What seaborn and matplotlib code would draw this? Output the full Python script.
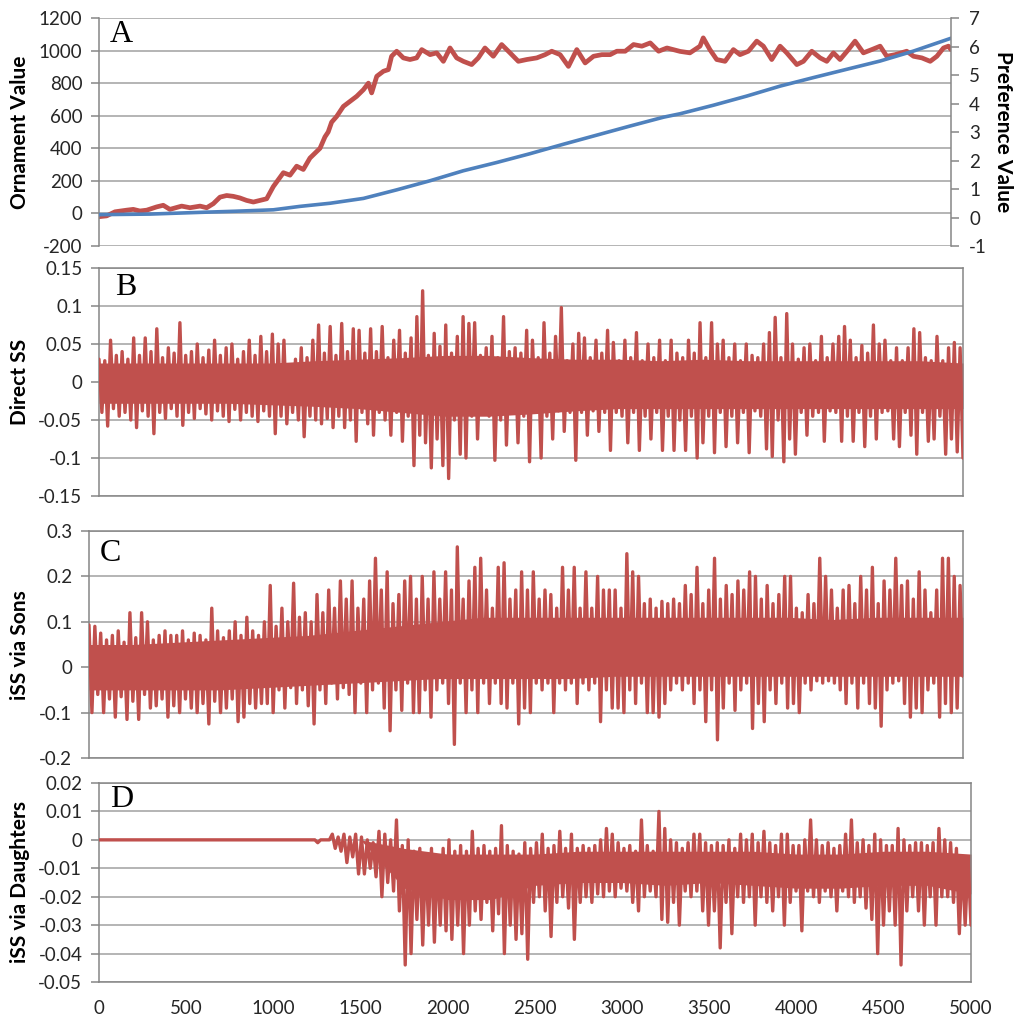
import numpy as np
import matplotlib
matplotlib.use("Agg")
import matplotlib.pyplot as plt
import seaborn as sns

# ---------------- Panel A data ----------------
ornament_gen = [0, 45, 94, 162, 201, 240, 280, 338, 377, 416, 485, 534, 593, 632, 671, 710, 749, 788,
                827, 866, 906, 945, 984, 1023, 1082, 1121, 1160, 1199, 1238, 1297, 1326, 1345, 1365, 1395,
                1434, 1473, 1512, 1552, 1581, 1600, 1630, 1669, 1698, 1717, 1747, 1786, 1825, 1864, 1894,
                1943, 1982, 2021, 2060, 2099, 2138, 2187, 2226, 2265, 2314, 2363, 2412, 2461, 2510, 2569,
                2618, 2657, 2706, 2755, 2804, 2853, 2902, 2951, 3000, 3039, 3088, 3137, 3186, 3235, 3284,
                3333, 3410, 3468, 3527, 3546, 3585, 3625, 3674, 3723, 3762, 3811, 3860, 3899, 3948, 3997,
                4036, 4095, 4134, 4183, 4232, 4271, 4310, 4349, 4398, 4437, 4486, 4535, 4584, 4623, 4672,
                4740, 4780, 4829, 4878, 4917, 4956, 4985, 5000]
ornament_val = [-20, -15, 10, 20, 25, 15, 20, 40, 50, 25, 45, 35, 45, 35, 60, 100, 110, 105,
                95, 80, 70, 80, 90, 165, 250, 235, 290, 270, 340, 400, 470, 500, 560, 596,
                657, 688, 719, 760, 800, 740, 842, 873, 883, 965, 996, 955, 945, 955, 1006,
                975, 986, 934, 1016, 955, 934, 914, 955, 1016, 965, 1037, 986, 934, 945, 955,
                975, 996, 975, 903, 1006, 924, 965, 975, 975, 996, 996, 1037, 1027, 1047, 996,
                1016, 995, 986, 1027, 1078, 1006, 945, 934, 1006, 975, 996, 1058, 1027, 945, 1027,
                986, 914, 934, 996, 955, 934, 986, 945, 1006, 1058, 986, 1006, 1027, 965, 975,
                996, 965, 955, 934, 965, 1016, 1027, 1006]
preference_gen = [0, 300, 593, 800, 1023, 1179, 1356, 1552, 1747, 1943, 2138, 2334, 2530, 2725,
                  2921, 3117, 3313, 3410, 3606, 3801, 3997, 4193, 4388, 4584, 4780, 5000]
preference_val = [0.10, 0.12, 0.18, 0.22, 0.27, 0.39, 0.50, 0.67, 0.97, 1.29, 1.64, 1.93, 2.24, 2.57,
                  2.89, 3.21, 3.52, 3.64, 3.94, 4.26, 4.61, 4.91, 5.20, 5.49, 5.84, 6.29]

# ---------------- Panel B: Direct SS (alternating peaks / troughs) ----------------
direct_ss_peaks = [
    0.030, 0.028, 0.055, 0.035, 0.040, 0.030, 0.058, 0.035, 0.058, 0.040, 0.070, 0.032, 0.045, 0.038, 0.078,
    0.035, 0.040, 0.050, 0.032, 0.042, 0.055, 0.035, 0.045, 0.050, 0.030, 0.040, 0.055, 0.035, 0.060, 0.040,
    0.063, 0.050, 0.055, 0.020, 0.030, 0.045, 0.032, 0.055, 0.075, 0.038, 0.073, 0.035, 0.077, 0.040, 0.070,
    0.068, 0.038, 0.070, 0.040, 0.073, 0.032, 0.055, 0.068, 0.038, 0.058, 0.086, 0.120, 0.035, 0.064, 0.047,
    0.075, 0.038, 0.060, 0.086, 0.077, 0.078, 0.035, 0.045, 0.060, 0.032, 0.086, 0.040, 0.045, 0.038, 0.068,
    0.055, 0.032, 0.078, 0.038, 0.060, 0.098, 0.028, 0.050, 0.064, 0.058, 0.032, 0.055, 0.038, 0.068, 0.052,
    0.028, 0.055, 0.032, 0.065, 0.028, 0.050, 0.032, 0.055, 0.028, 0.055, 0.038, 0.032, 0.055, 0.038, 0.078,
    0.032, 0.078, 0.050, 0.055, 0.032, 0.050, 0.028, 0.050, 0.035, 0.032, 0.050, 0.065, 0.085, 0.032, 0.090,
    0.050, 0.030, 0.045, 0.050, 0.028, 0.060, 0.032, 0.050, 0.060, 0.073, 0.055, 0.032, 0.048, 0.038, 0.075,
    0.050, 0.055, 0.028, 0.045, 0.028, 0.045, 0.070, 0.065, 0.032, 0.028, 0.060, 0.028, 0.045, 0.052, 0.045]
direct_ss_troughs = [
    -0.040, -0.058, -0.035, -0.045, -0.040, -0.050, -0.060, -0.038, -0.045, -0.068, -0.040, -0.048, -0.035, -0.045, -0.057,
    -0.040, -0.048, -0.035, -0.042, -0.050, -0.038, -0.045, -0.052, -0.036, -0.050, -0.040, -0.045, -0.052, -0.038, -0.045,
    -0.068, -0.045, -0.055, -0.040, -0.050, -0.072, -0.045, -0.050, -0.055, -0.048, -0.060, -0.045, -0.060, -0.050, -0.078,
    -0.040, -0.055, -0.070, -0.040, -0.050, -0.070, -0.040, -0.078, -0.045, -0.110, -0.070, -0.080, -0.113, -0.075, -0.110,
    -0.127, -0.050, -0.095, -0.100, -0.045, -0.075, -0.040, -0.045, -0.103, -0.050, -0.083, -0.040, -0.080, -0.045, -0.105,
    -0.040, -0.100, -0.045, -0.075, -0.038, -0.065, -0.040, -0.103, -0.040, -0.070, -0.038, -0.065, -0.040, -0.090, -0.040,
    -0.045, -0.080, -0.040, -0.090, -0.045, -0.075, -0.040, -0.090, -0.045, -0.090, -0.050, -0.090, -0.045, -0.100, -0.080,
    -0.045, -0.093, -0.040, -0.085, -0.045, -0.080, -0.040, -0.093, -0.038, -0.045, -0.088, -0.098, -0.050, -0.105, -0.075,
    -0.095, -0.040, -0.070, -0.045, -0.040, -0.078, -0.038, -0.040, -0.078, -0.045, -0.078, -0.040, -0.085, -0.045, -0.075,
    -0.040, -0.038, -0.075, -0.085, -0.040, -0.070, -0.095, -0.040, -0.078, -0.075, -0.045, -0.095, -0.075, -0.092, -0.100]
# dense core of the trace, read every 250 generations
direct_ss_core_hi = [0.025, 0.025, 0.025, 0.025, 0.025, 0.028, 0.030, 0.032, 0.035, 0.035, 0.032,
                     0.030, 0.030, 0.028, 0.030, 0.028, 0.028, 0.028, 0.028, 0.028, 0.025]
direct_ss_core_lo = [-0.028, -0.028, -0.028, -0.028, -0.030, -0.032, -0.035, -0.040, -0.045, -0.045, -0.042,
                     -0.038, -0.035, -0.035, -0.035, -0.035, -0.035, -0.035, -0.035, -0.035, -0.035]

# ---------------- Panel C: iSS via Sons ----------------
sons_peaks = [
    0.093, 0.090, 0.075, 0.060, 0.070, 0.080, 0.055, 0.120, 0.065, 0.120, 0.100, 0.060, 0.070, 0.080, 0.070,
    0.070, 0.080, 0.060, 0.075, 0.070, 0.060, 0.130, 0.080, 0.065, 0.080, 0.100, 0.070, 0.110, 0.080, 0.070,
    0.100, 0.180, 0.090, 0.130, 0.100, 0.185, 0.110, 0.120, 0.100, 0.160, 0.120, 0.170, 0.130, 0.190, 0.150,
    0.190, 0.130, 0.150, 0.190, 0.240, 0.170, 0.210, 0.140, 0.160, 0.190, 0.200, 0.150, 0.200, 0.150, 0.210,
    0.150, 0.210, 0.170, 0.265, 0.150, 0.190, 0.220, 0.240, 0.170, 0.130, 0.220, 0.230, 0.150, 0.170, 0.210,
    0.170, 0.210, 0.150, 0.170, 0.160, 0.130, 0.220, 0.170, 0.220, 0.130, 0.210, 0.130, 0.200, 0.170, 0.170,
    0.170, 0.130, 0.250, 0.210, 0.200, 0.140, 0.150, 0.130, 0.145, 0.140, 0.150, 0.140, 0.180, 0.160, 0.220,
    0.140, 0.170, 0.240, 0.150, 0.180, 0.160, 0.190, 0.170, 0.210, 0.200, 0.150, 0.180, 0.140, 0.160, 0.200,
    0.200, 0.130, 0.120, 0.160, 0.140, 0.240, 0.200, 0.170, 0.130, 0.170, 0.180, 0.140, 0.200, 0.170, 0.220,
    0.140, 0.190, 0.170, 0.240, 0.180, 0.190, 0.150, 0.210, 0.170, 0.120, 0.170, 0.240, 0.240, 0.200, 0.180]
sons_troughs = [
    -0.100, -0.060, -0.100, -0.070, -0.110, -0.065, -0.115, -0.075, -0.115, -0.060, -0.090, -0.085, -0.070, -0.110, -0.085,
    -0.100, -0.070, -0.090, -0.100, -0.080, -0.125, -0.075, -0.100, -0.090, -0.070, -0.120, -0.110, -0.080, -0.090, -0.080,
    -0.080, -0.100, -0.050, -0.090, -0.045, -0.080, -0.050, -0.085, -0.125, -0.050, -0.080, -0.035, -0.070, -0.045, -0.060,
    -0.100, -0.035, -0.100, -0.050, -0.035, -0.090, -0.140, -0.050, -0.095, -0.035, -0.100, -0.100, -0.050, -0.110, -0.050,
    -0.035, -0.080, -0.170, -0.035, -0.100, -0.050, -0.100, -0.035, -0.080, -0.035, -0.080, -0.090, -0.035, -0.125, -0.090,
    -0.100, -0.035, -0.050, -0.035, -0.100, -0.035, -0.050, -0.035, -0.080, -0.035, -0.050, -0.035, -0.120, -0.050, -0.090,
    -0.090, -0.100, -0.050, -0.080, -0.035, -0.100, -0.100, -0.110, -0.080, -0.050, -0.035, -0.050, -0.035, -0.080, -0.050,
    -0.120, -0.050, -0.160, -0.090, -0.035, -0.095, -0.050, -0.035, -0.135, -0.080, -0.120, -0.050, -0.080, -0.035, -0.090,
    -0.080, -0.100, -0.035, -0.050, -0.030, -0.035, -0.030, -0.035, -0.050, -0.080, -0.035, -0.090, -0.035, -0.080, -0.090,
    -0.130, -0.050, -0.035, -0.030, -0.080, -0.110, -0.090, -0.100, -0.050, -0.035, -0.110, -0.080, -0.100, -0.090, -0.020]
sons_core_hi = [0.050, 0.050, 0.055, 0.060, 0.065, 0.070, 0.080, 0.090, 0.100, 0.110, 0.110,
                0.110, 0.110, 0.110, 0.110, 0.110, 0.110, 0.105, 0.110, 0.110, 0.110]
sons_core_lo = [-0.050, -0.050, -0.050, -0.050, -0.045, -0.040, -0.035, -0.030, -0.025, -0.025, -0.025,
                -0.025, -0.020, -0.020, -0.020, -0.020, -0.020, -0.020, -0.020, -0.020, -0.020]

# ---------------- Panel D: iSS via Daughters ----------------
daughters_peaks = [
    0, 0, 0, 0, 0, 0, 0, 0, 0, 0, 0, 0, 0, 0, 0,
    0, 0, 0, 0, 0, 0, 0, 0, 0, 0, 0, 0, 0, 0, 0,
    0, 0, 0, 0, 0, 0, 0, 0, 0, 0, 0.002, 0.001, 0.002, 0.001, 0.002,
    0.001, 0.000, -0.001, 0.003, 0.002, 0.000, 0.007, -0.002, 0.000, -0.004, -0.003, -0.005, -0.003, -0.006, -0.003,
    0.000, -0.004, -0.002, -0.004, 0.003, -0.003, -0.002, -0.004, -0.003, 0.005, -0.002, -0.004, -0.005, -0.001, -0.003,
    -0.001, 0.002, -0.003, -0.002, 0.003, -0.003, 0.002, -0.003, -0.002, -0.003, -0.002, 0.000, 0.004, 0.002, -0.001,
    -0.003, -0.002, -0.004, 0.007, -0.002, -0.004, 0.010, 0.004, 0.000, -0.001, -0.003, -0.001, 0.002, 0.002, -0.001,
    -0.002, -0.001, -0.002, 0.000, -0.003, 0.002, 0.000, 0.002, -0.001, 0.003, -0.001, -0.002, 0.002, 0.002, -0.002,
    -0.002, 0.000, 0.007, 0.000, -0.002, -0.001, -0.003, -0.002, 0.002, 0.007, -0.001, 0.000, -0.002, 0.002, 0.000,
    -0.002, -0.002, 0.004, 0.000, -0.002, -0.001, -0.001, -0.002, -0.001, 0.004, 0.000, -0.001, -0.003, -0.007, -0.007]
daughters_troughs = [
    0, 0, 0, 0, 0, 0, 0, 0, 0, 0, 0, 0, 0, 0, 0,
    0, 0, 0, 0, 0, 0, 0, 0, 0, 0, 0, 0, 0, 0, 0,
    0, 0, 0, 0, 0, 0, 0, -0.001, 0, 0, -0.003, -0.004, -0.008, -0.006, -0.012,
    -0.012, -0.010, -0.013, -0.020, -0.015, -0.018, -0.025, -0.044, -0.040, -0.028, -0.037, -0.030, -0.036, -0.030, -0.032,
    -0.035, -0.030, -0.040, -0.030, -0.025, -0.028, -0.022, -0.032, -0.026, -0.040, -0.030, -0.035, -0.033, -0.042, -0.022,
    -0.020, -0.025, -0.034, -0.022, -0.020, -0.024, -0.035, -0.022, -0.020, -0.022, -0.019, -0.020, -0.018, -0.020, -0.017,
    -0.018, -0.022, -0.025, -0.020, -0.018, -0.020, -0.028, -0.029, -0.022, -0.030, -0.018, -0.020, -0.018, -0.025, -0.030,
    -0.025, -0.038, -0.022, -0.033, -0.020, -0.022, -0.020, -0.030, -0.020, -0.022, -0.025, -0.020, -0.030, -0.022, -0.018,
    -0.032, -0.018, -0.020, -0.022, -0.018, -0.020, -0.025, -0.018, -0.020, -0.022, -0.020, -0.024, -0.028, -0.040, -0.030,
    -0.025, -0.030, -0.044, -0.025, -0.020, -0.025, -0.030, -0.020, -0.030, -0.020, -0.020, -0.022, -0.033, -0.030, -0.030]
daughters_core_hi = [0, 0, 0, 0, 0, 0, 0, -0.003, -0.005, -0.005, -0.005,
                     -0.004, -0.004, -0.004, -0.004, -0.004, -0.005, -0.005, -0.004, -0.004, -0.005]
daughters_core_lo = [0, 0, 0, 0, 0, 0, 0, -0.017, -0.021, -0.021, -0.016,
                     -0.015, -0.015, -0.016, -0.015, -0.016, -0.017, -0.017, -0.016, -0.016, -0.019]

# ---------------- tick labels ----------------
a_left_ticks = [-200, 0, 200, 400, 600, 800, 1000, 1200]
a_right_ticks = [-1, 0, 1, 2, 3, 4, 5, 6, 7]
b_ticks = [-0.15, -0.1, -0.05, 0, 0.05, 0.1, 0.15]
c_ticks = [-0.2, -0.1, 0, 0.1, 0.2, 0.3]
d_ticks = [-0.05, -0.04, -0.03, -0.02, -0.01, 0, 0.01, 0.02]
x_ticks = [0, 500, 1000, 1500, 2000, 2500, 3000, 3500, 4000, 4500, 5000]

# ---------------- styling ----------------
sns.set_style("white")
plt.rcParams['font.family'] = ['Lato', 'DejaVu Sans']
plt.rcParams['axes.unicode_minus'] = False

W, H = 1014, 1019
fig = plt.figure(figsize=(W / 100, H / 100), dpi=100)

RED = '#C0504D'
BLUE = '#4F81BD'
GRID = '#A0A0A0'
SPINE = '#868686'
TXT = '#262626'
TICK_FS = 13.5
NOISE_LW = 2.4


def add_ax(l, r, t, b):
    return fig.add_axes([l / W, 1 - b / H, (r - l) / W, (b - t) / H])


def fmt(v):
    return ('%g' % v)


def zigzag(peaks, troughs):
    p = np.asarray(peaks, float)
    t = np.asarray(troughs, float)
    y = np.empty(p.size + t.size)
    y[0::2] = p
    y[1::2] = t
    x = np.linspace(0, 5000, y.size)
    return x, y


def draw_noise(ax, peaks, troughs, core_hi, core_lo):
    xc = np.linspace(0, 5000, len(core_hi))
    ax.fill_between(xc, core_lo, core_hi, color=RED, linewidth=0, zorder=2)
    x, y = zigzag(peaks, troughs)
    sns.lineplot(x=x, y=y, ax=ax, color=RED, linewidth=NOISE_LW, estimator=None, sort=False,
                 zorder=3)


def style_y(ax, ticks, box=True):
    ax.set_xlim(0, 5000)
    ax.set_ylim(ticks[0], ticks[-1])
    ax.set_yticks(ticks)
    ax.set_yticklabels([fmt(v) for v in ticks])
    ax.grid(False)
    ax.yaxis.grid(True, color=GRID, linewidth=1.1)
    ax.set_axisbelow(True)
    for s in ax.spines.values():
        s.set_color(SPINE)
        s.set_linewidth(1.1)
        s.set_visible(box)
    ax.tick_params(axis='y', left=True, length=6, width=1.1, color=SPINE, pad=6,
                   labelsize=TICK_FS, labelcolor=TXT)
    ax.set_xlabel('')
    ax.set_ylabel('')


# ----- Panel A -----
axA = add_ax(99, 951, 18, 246)
sns.lineplot(x=ornament_gen, y=ornament_val, ax=axA, color=RED, linewidth=3.4,
             estimator=None, sort=False)
style_y(axA, a_left_ticks, box=False)
axA.spines['left'].set_visible(True)
axA.set_xticks([])
axA2 = axA.twinx()
sns.lineplot(x=preference_gen, y=preference_val, ax=axA2, color=BLUE, linewidth=2.6,
             estimator=None, sort=False)
axA2.set_xlim(0, 5000)
axA2.set_ylim(-1, 7)
axA2.set_yticks(a_right_ticks)
axA2.set_yticklabels([fmt(v) for v in a_right_ticks])
axA2.grid(False)
for k, s in axA2.spines.items():
    s.set_visible(k == 'right')
    s.set_color(SPINE)
    s.set_linewidth(1.1)
axA2.tick_params(axis='y', right=True, length=6, width=1.1, color=SPINE, pad=7,
                 labelsize=TICK_FS, labelcolor=TXT)
axA2.set_ylabel('')
axA2.set_xlabel('')

# ----- Panel B -----
axB = add_ax(99, 963, 268, 496)
draw_noise(axB, direct_ss_peaks, direct_ss_troughs, direct_ss_core_hi, direct_ss_core_lo)
style_y(axB, b_ticks)
axB.set_xticks([])

# ----- Panel C -----
axC = add_ax(89, 963, 531, 758)
draw_noise(axC, sons_peaks, sons_troughs, sons_core_hi, sons_core_lo)
style_y(axC, c_ticks)
axC.set_xticks([])

# ----- Panel D -----
axD = add_ax(99, 971, 783, 982)
draw_noise(axD, daughters_peaks, daughters_troughs, daughters_core_hi, daughters_core_lo)
style_y(axD, d_ticks)
axD.set_xticks(x_ticks)
axD.set_xticklabels([str(v) for v in x_ticks])
axD.tick_params(axis='x', bottom=True, length=0, pad=13, labelsize=TICK_FS, labelcolor=TXT)

# ----- axis titles -----
LAB_FS = 15
fig.text(20 / W, 1 - 132 / H, 'Ornament Value', rotation=90, ha='center', va='center',
         fontsize=LAB_FS, fontweight='bold', color='black')
fig.text(1003 / W, 1 - 132 / H, 'Preference Value', rotation=270, ha='center', va='center',
         fontsize=LAB_FS, fontweight='bold', color='black')
fig.text(20 / W, 1 - 382 / H, 'Direct SS', rotation=90, ha='center', va='center',
         fontsize=LAB_FS, fontweight='bold', color='black')
fig.text(20 / W, 1 - 645 / H, 'iSS via Sons', rotation=90, ha='center', va='center',
         fontsize=LAB_FS, fontweight='bold', color='black')
fig.text(20 / W, 1 - 882 / H, 'iSS via Daughters', rotation=90, ha='center', va='center',
         fontsize=LAB_FS, fontweight='bold', color='black')

# ----- panel letters -----
for letter, px, py in [('A', 110, 42), ('B', 115, 295), ('C', 100, 561), ('D', 110, 807)]:
    fig.text(px / W, 1 - py / H, letter, ha='left', va='baseline', fontsize=23,
             family=['Liberation Serif', 'DejaVu Serif'], color='black')

fig.savefig('out.png', dpi=100)
